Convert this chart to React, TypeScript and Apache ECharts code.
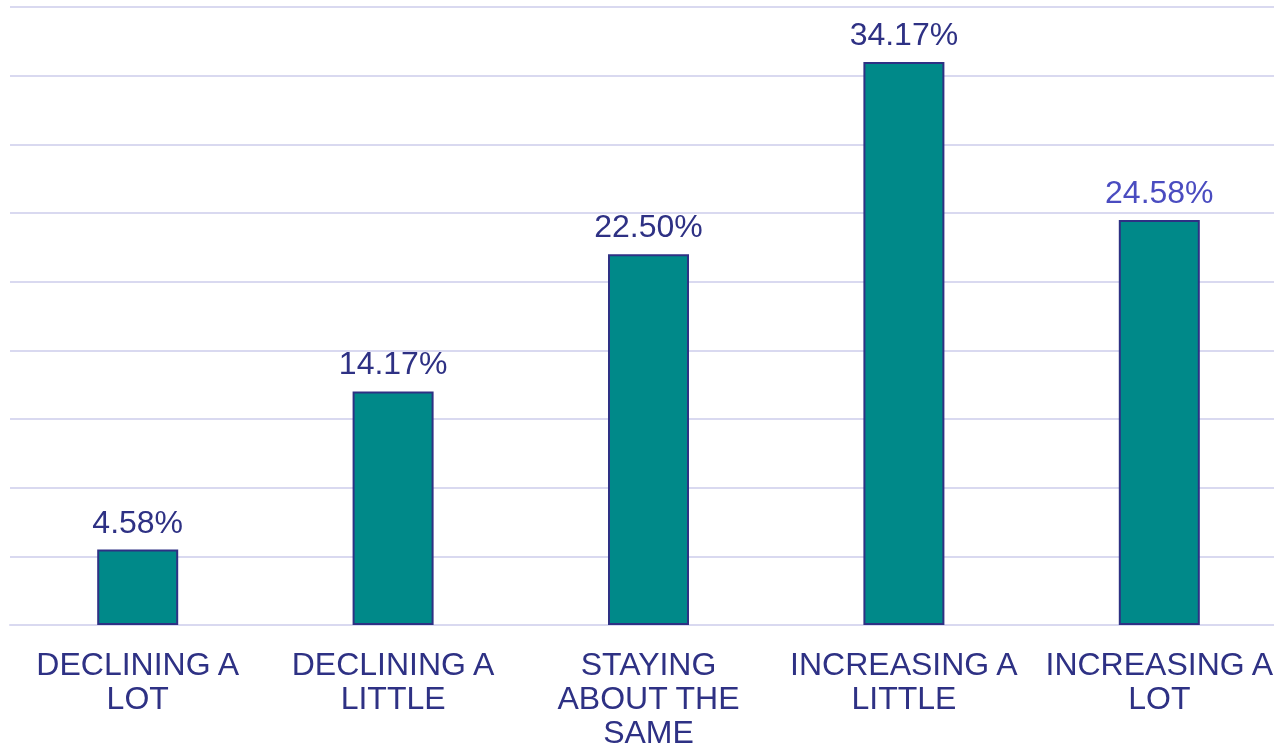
import React, { useEffect, useRef } from "react";
import * as echarts from "echarts";

const categories = [
  "DECLINING A\nLOT",
  "DECLINING A\nLITTLE",
  "STAYING\nABOUT THE\nSAME",
  "INCREASING A\nLITTLE",
  "INCREASING A\nLOT",
];
const values = [4.58, 14.17, 22.5, 34.17, 24.58];
const labelColors = ["#2E3184", "#2E3184", "#2E3184", "#2E3184", "#4A4CC0"];
const axisMax = 37.5;
const gridSteps = 9;

export default function App() {
  const ref = useRef<HTMLDivElement>(null);
  useEffect(() => {
    if (!ref.current) return;
    document.body.style.overflow = "hidden";
    const chart = echarts.init(ref.current, undefined, { renderer: "svg" });
    const font = "'Liberation Sans', Arial, sans-serif";
    chart.setOption({
      animation: false,
      grid: {
        left: 10,
        right: 0,
        top: 7,
        bottom: 125,
        containLabel: false,
        outerBoundsMode: "none",
      },
      xAxis: {
        type: "category",
        data: categories,
        axisTick: { show: false },
        axisLine: { lineStyle: { color: "#D9D9F0", width: 2 } },
        axisLabel: {
          color: "#2E3184",
          fontSize: 32,
          fontFamily: font,
          lineHeight: 34,
          margin: 22,
          interval: 0,
        },
      },
      yAxis: {
        type: "value",
        min: 0,
        max: axisMax,
        interval: axisMax / gridSteps,
        axisLabel: { show: false },
        axisLine: { show: false },
        axisTick: { show: false },
        splitLine: { lineStyle: { color: "#D9D9F0", width: 2 } },
      },
      series: [
        {
          type: "bar",
          barWidth: 81,
          data: values.map((v, i) => ({
            value: v,
            label: { color: labelColors[i] },
          })),
          itemStyle: {
            color: "#008989",
            borderColor: "#2E3184",
            borderWidth: 2,
          },
          label: {
            show: true,
            position: "top",
            distance: 12,
            fontSize: 32,
            fontFamily: font,
            formatter: (p: any) => p.value.toFixed(2) + "%",
          },
        },
      ],
    });
    return () => chart.dispose();
  }, []);
  return (
    <div
      ref={ref}
      style={{ position: "fixed", left: 0, top: 0, width: 1287, height: 750 }}
    />
  );
}
